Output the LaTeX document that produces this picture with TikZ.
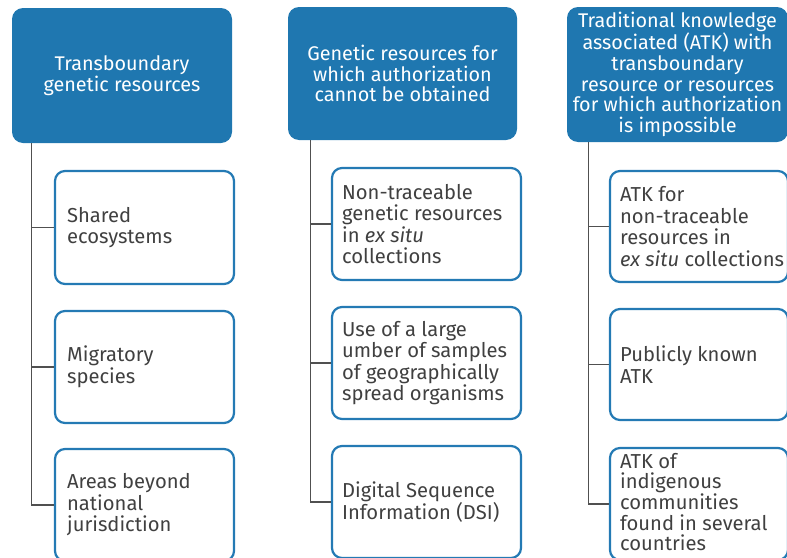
\documentclass[tikz,border=0pt]{standalone}
\usepackage{fontspec}
\setmainfont{Fira Sans}
\definecolor{hblue}{RGB}{31,119,176}
\definecolor{bblue}{RGB}{36,122,180}
\definecolor{tgray}{RGB}{64,64,64}
\definecolor{lgray}{RGB}{80,80,80}
\begin{document}
\begin{tikzpicture}[x=1pt,y=-1pt,
  head/.style={fill=hblue, draw=none, rounded corners=11pt, text=white, align=center,
    font=\fontsize{19.8}{20.6}\selectfont, inner sep=0pt},
  child/.style={draw=bblue, line width=2.2pt, rounded corners=10pt, fill=white, inner sep=0pt},
  ctext/.style={text=tgray, align=left, anchor=west, inner sep=0pt,
    font=\fontsize{20.2}{21.5}\selectfont},
  conn/.style={draw=lgray, line width=1.2pt}]
\useasboundingbox (0,0) rectangle (787,557);
\clip (0,0) rectangle (787,557);
% headers
\node[head, minimum width=220pt, minimum height=135pt] (h1) at (122,75.5) {Transboundary\\genetic resources};
\node[head, minimum width=229pt, minimum height=133pt] (h2) at (402.5,73.5) {Genetic resources for\\which authorization\\cannot be obtained};
\node[head, minimum width=221pt, minimum height=135pt] (h3) at (677.5,74.5) {Traditional knowledge\\associated (ATK) with\\transboundary\\resource or resources\\for which authorization\\is impossible};
% column 1
\node[child, minimum width=179pt, minimum height=113pt] (c11) at (144.5,227.5) {};
\node[child, minimum width=179pt, minimum height=112pt] (c12) at (144.5,367) {};
\node[child, minimum width=179pt, minimum height=112pt] (c13) at (144.5,505) {};
\node[ctext] (c11t) at ([xshift=13pt]c11.west) {Shared\\ecosystems};
\node[ctext] (c12t) at ([xshift=13pt]c12.west) {Migratory\\species};
\node[ctext] (c13t) at ([xshift=13pt]c13.west) {Areas beyond\\national\\jurisdiction};
% column 2
\node[child, minimum width=189pt, minimum height=112pt] (c21) at (426.5,224) {};
\node[child, minimum width=189pt, minimum height=112pt] (c22) at (426.5,363) {};
\node[child, minimum width=189pt, minimum height=112pt] (c23) at (426.5,502) {};
\node[ctext] (c21t) at ([xshift=11pt]c21.west) {Non-traceable\\genetic resources\\in \textit{ex situ}\\collections};
\node[ctext] (c22t) at ([xshift=11pt]c22.west) {Use of a large\\umber of samples\\of geographically\\spread organisms};
\node[ctext] (c23t) at ([xshift=11pt]c23.west) {Digital Sequence\\Information (DSI)};
% column 3
\node[child, minimum width=178pt, minimum height=111pt] (c31) at (699,226.5) {};
\node[child, minimum width=178pt, minimum height=111pt] (c32) at (699,364.5) {};
\node[child, minimum width=178pt, minimum height=112pt] (c33) at (699,504) {};
\node[ctext] (c31t) at ([xshift=11pt]c31.west) {ATK for\\non-traceable\\resources in\\\textit{ex situ} collections};
\node[ctext] (c32t) at ([xshift=11pt]c32.west) {Publicly known\\ATK};
\node[ctext, font=\fontsize{20.2}{20.6}\selectfont] (c33t) at ([xshift=11pt,yshift=2pt]c33.west) {ATK of\\indigenous\\communities\\found in several\\countries};
% trunks
\coordinate (t1) at ([xshift=20pt]h1.south west);
\coordinate (t2) at ([xshift=23pt]h2.south west);
\coordinate (t3) at ([xshift=22pt]h3.south west);
\draw[conn] (t1) |- (c13.west);
\draw[conn] (c11.west) -- (c11.west -| t1);
\draw[conn] (c12.west) -- (c12.west -| t1);
\draw[conn] (t2) |- (c23.west);
\draw[conn] (c21.west) -- (c21.west -| t2);
\draw[conn] (c22.west) -- (c22.west -| t2);
\draw[conn] (t3) |- (c33.west);
\draw[conn] (c31.west) -- (c31.west -| t3);
\draw[conn] (c32.west) -- (c32.west -| t3);
\end{tikzpicture}
\end{document}
